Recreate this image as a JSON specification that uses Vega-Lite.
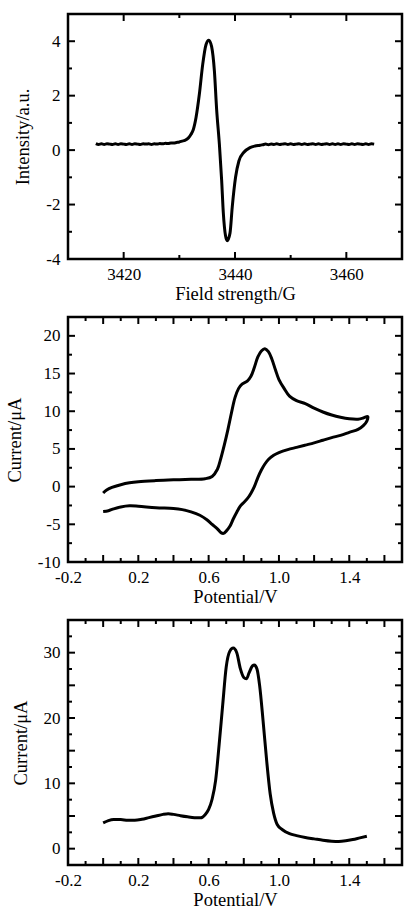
{
  "$schema": "https://vega.github.io/schema/vega-lite/v6.json",
  "background": "white",
  "padding": {"left": 4, "top": 12, "right": 0, "bottom": 0},
  "spacing": 58,
  "bounds": "flush",
  "config": {
    "view": {"stroke": "black", "strokeWidth": 2.5},
    "axis": {
      "labelFont": "Liberation Serif",
      "titleFont": "Liberation Serif",
      "labelFontSize": 17,
      "titleFontSize": 18.5,
      "labelColor": "black",
      "titleColor": "black",
      "titleFontWeight": "normal",
      "ticks": false,
      "domain": false,
      "grid": false,
      "labelOverlap": false,
      "labelFlush": false,
      "labelBound": false
    },
    "axisX": {"labelPadding": 7, "titlePadding": 2},
    "axisY": {"labelPadding": 8, "titlePadding": 13},
    "tick": {"color": "black", "opacity": 1, "thickness": 2}
  },
  "datasets": {
    "epr": [
      {"B": 3415, "I": 0.24}, {"B": 3415.5, "I": 0.21}, {"B": 3416, "I": 0.23}, {"B": 3416.5, "I": 0.21},
      {"B": 3417, "I": 0.23}, {"B": 3417.5, "I": 0.22}, {"B": 3418, "I": 0.21}, {"B": 3418.5, "I": 0.23},
      {"B": 3419, "I": 0.21}, {"B": 3419.5, "I": 0.23}, {"B": 3420, "I": 0.22}, {"B": 3420.5, "I": 0.21},
      {"B": 3421, "I": 0.23}, {"B": 3421.5, "I": 0.21}, {"B": 3422, "I": 0.23}, {"B": 3422.5, "I": 0.22},
      {"B": 3423, "I": 0.21}, {"B": 3423.5, "I": 0.23}, {"B": 3424, "I": 0.22}, {"B": 3424.5, "I": 0.23},
      {"B": 3425, "I": 0.21}, {"B": 3425.5, "I": 0.23}, {"B": 3426, "I": 0.22}, {"B": 3426.5, "I": 0.24},
      {"B": 3427, "I": 0.23}, {"B": 3427.5, "I": 0.25}, {"B": 3428, "I": 0.24}, {"B": 3428.5, "I": 0.26},
      {"B": 3429, "I": 0.26}, {"B": 3429.5, "I": 0.28}, {"B": 3430, "I": 0.3}, {"B": 3430.5, "I": 0.33},
      {"B": 3431, "I": 0.36}, {"B": 3431.6, "I": 0.44}, {"B": 3432.1, "I": 0.58}, {"B": 3432.5, "I": 0.75},
      {"B": 3433, "I": 1.2}, {"B": 3433.6, "I": 2.06}, {"B": 3434.2, "I": 3.15}, {"B": 3434.8, "I": 3.88},
      {"B": 3435.3, "I": 4.04}, {"B": 3435.8, "I": 3.8}, {"B": 3436.3, "I": 2.9}, {"B": 3436.7, "I": 1.5},
      {"B": 3437.2, "I": 0.2}, {"B": 3437.6, "I": -1.1}, {"B": 3437.9, "I": -2.3}, {"B": 3438.3, "I": -3.15},
      {"B": 3438.6, "I": -3.33}, {"B": 3439.1, "I": -3.05}, {"B": 3439.5, "I": -2.1}, {"B": 3440.1, "I": -1.0},
      {"B": 3440.7, "I": -0.4}, {"B": 3441.6, "I": -0.08}, {"B": 3442.7, "I": 0.09}, {"B": 3443.6, "I": 0.15},
      {"B": 3444.5, "I": 0.18}, {"B": 3445, "I": 0.2}, {"B": 3445.5, "I": 0.22}, {"B": 3446, "I": 0.2},
      {"B": 3446.5, "I": 0.22}, {"B": 3447, "I": 0.21}, {"B": 3447.5, "I": 0.23}, {"B": 3448, "I": 0.21},
      {"B": 3448.5, "I": 0.22}, {"B": 3449, "I": 0.23}, {"B": 3449.5, "I": 0.21}, {"B": 3450, "I": 0.23},
      {"B": 3450.5, "I": 0.21}, {"B": 3451, "I": 0.22}, {"B": 3451.5, "I": 0.23}, {"B": 3452, "I": 0.21},
      {"B": 3452.5, "I": 0.23}, {"B": 3453, "I": 0.21}, {"B": 3453.5, "I": 0.22}, {"B": 3454, "I": 0.23},
      {"B": 3454.5, "I": 0.21}, {"B": 3455, "I": 0.23}, {"B": 3455.5, "I": 0.21}, {"B": 3456, "I": 0.22},
      {"B": 3456.5, "I": 0.23}, {"B": 3457, "I": 0.21}, {"B": 3457.5, "I": 0.23}, {"B": 3458, "I": 0.21},
      {"B": 3458.5, "I": 0.23}, {"B": 3459, "I": 0.21}, {"B": 3459.5, "I": 0.23}, {"B": 3460, "I": 0.22},
      {"B": 3460.5, "I": 0.21}, {"B": 3461, "I": 0.23}, {"B": 3461.5, "I": 0.21}, {"B": 3462, "I": 0.23},
      {"B": 3462.5, "I": 0.22}, {"B": 3463, "I": 0.21}, {"B": 3463.5, "I": 0.23}, {"B": 3464, "I": 0.21},
      {"B": 3464.5, "I": 0.23}, {"B": 3465, "I": 0.22}
    ],
    "cv": [
      {"k": 1, "V": 0.0, "I": -0.85}, {"k": 2, "V": 0.02, "I": -0.45}, {"k": 3, "V": 0.05, "I": -0.1},
      {"k": 4, "V": 0.1, "I": 0.25}, {"k": 5, "V": 0.15, "I": 0.5}, {"k": 6, "V": 0.2, "I": 0.65},
      {"k": 7, "V": 0.3, "I": 0.8}, {"k": 8, "V": 0.4, "I": 0.9}, {"k": 9, "V": 0.5, "I": 0.97},
      {"k": 10, "V": 0.58, "I": 1.05}, {"k": 11, "V": 0.62, "I": 1.35}, {"k": 12, "V": 0.65, "I": 2.3},
      {"k": 13, "V": 0.67, "I": 3.8}, {"k": 14, "V": 0.69, "I": 5.6}, {"k": 15, "V": 0.71, "I": 7.6},
      {"k": 16, "V": 0.73, "I": 9.8}, {"k": 17, "V": 0.75, "I": 11.8}, {"k": 18, "V": 0.77, "I": 13.0},
      {"k": 19, "V": 0.79, "I": 13.6}, {"k": 20, "V": 0.82, "I": 14.0}, {"k": 21, "V": 0.84, "I": 14.6},
      {"k": 22, "V": 0.86, "I": 15.8}, {"k": 23, "V": 0.88, "I": 17.2}, {"k": 24, "V": 0.9, "I": 18.0},
      {"k": 25, "V": 0.92, "I": 18.3}, {"k": 26, "V": 0.94, "I": 17.9}, {"k": 27, "V": 0.96, "I": 16.9},
      {"k": 28, "V": 0.98, "I": 15.5}, {"k": 29, "V": 1.0, "I": 14.2}, {"k": 30, "V": 1.03, "I": 13.0},
      {"k": 31, "V": 1.06, "I": 12.0}, {"k": 32, "V": 1.1, "I": 11.4}, {"k": 33, "V": 1.15, "I": 11.0},
      {"k": 34, "V": 1.2, "I": 10.4}, {"k": 35, "V": 1.25, "I": 9.9}, {"k": 36, "V": 1.3, "I": 9.5},
      {"k": 37, "V": 1.35, "I": 9.2}, {"k": 38, "V": 1.4, "I": 9.0}, {"k": 39, "V": 1.45, "I": 8.95},
      {"k": 40, "V": 1.48, "I": 9.1}, {"k": 41, "V": 1.505, "I": 9.3}, {"k": 42, "V": 1.5, "I": 8.7},
      {"k": 43, "V": 1.48, "I": 8.1}, {"k": 44, "V": 1.45, "I": 7.6}, {"k": 45, "V": 1.4, "I": 7.2},
      {"k": 46, "V": 1.35, "I": 6.8}, {"k": 47, "V": 1.3, "I": 6.5}, {"k": 48, "V": 1.25, "I": 6.15},
      {"k": 49, "V": 1.2, "I": 5.8}, {"k": 50, "V": 1.15, "I": 5.5}, {"k": 51, "V": 1.1, "I": 5.2},
      {"k": 52, "V": 1.05, "I": 4.9}, {"k": 53, "V": 1.0, "I": 4.5}, {"k": 54, "V": 0.97, "I": 4.15},
      {"k": 55, "V": 0.94, "I": 3.6}, {"k": 56, "V": 0.92, "I": 3.0}, {"k": 57, "V": 0.9, "I": 2.2},
      {"k": 58, "V": 0.88, "I": 1.2}, {"k": 59, "V": 0.86, "I": 0.0}, {"k": 60, "V": 0.84, "I": -0.9},
      {"k": 61, "V": 0.82, "I": -1.6}, {"k": 62, "V": 0.8, "I": -2.1}, {"k": 63, "V": 0.78, "I": -2.6},
      {"k": 64, "V": 0.76, "I": -3.4}, {"k": 65, "V": 0.74, "I": -4.3}, {"k": 66, "V": 0.72, "I": -5.3},
      {"k": 67, "V": 0.7, "I": -5.9}, {"k": 68, "V": 0.685, "I": -6.2}, {"k": 69, "V": 0.67, "I": -6.1},
      {"k": 70, "V": 0.65, "I": -5.6}, {"k": 71, "V": 0.62, "I": -5.0}, {"k": 72, "V": 0.59, "I": -4.4},
      {"k": 73, "V": 0.55, "I": -3.8}, {"k": 74, "V": 0.5, "I": -3.35}, {"k": 75, "V": 0.45, "I": -3.05},
      {"k": 76, "V": 0.4, "I": -2.9}, {"k": 77, "V": 0.3, "I": -2.8}, {"k": 78, "V": 0.2, "I": -2.6},
      {"k": 79, "V": 0.15, "I": -2.55}, {"k": 80, "V": 0.1, "I": -2.7}, {"k": 81, "V": 0.06, "I": -2.95},
      {"k": 82, "V": 0.03, "I": -3.2}, {"k": 83, "V": 0.0, "I": -3.3}
    ],
    "dpv": [
      {"V": 0.0, "I": 3.95}, {"V": 0.03, "I": 4.3}, {"V": 0.06, "I": 4.45}, {"V": 0.1, "I": 4.45},
      {"V": 0.14, "I": 4.35}, {"V": 0.18, "I": 4.35}, {"V": 0.22, "I": 4.5}, {"V": 0.26, "I": 4.75},
      {"V": 0.3, "I": 5.0}, {"V": 0.34, "I": 5.25}, {"V": 0.37, "I": 5.35}, {"V": 0.4, "I": 5.25},
      {"V": 0.44, "I": 5.05}, {"V": 0.48, "I": 4.88}, {"V": 0.52, "I": 4.75}, {"V": 0.555, "I": 4.72},
      {"V": 0.58, "I": 5.2}, {"V": 0.6, "I": 6.0}, {"V": 0.62, "I": 7.6}, {"V": 0.64, "I": 10.5},
      {"V": 0.66, "I": 16.0}, {"V": 0.68, "I": 22.0}, {"V": 0.7, "I": 27.8}, {"V": 0.72, "I": 30.2},
      {"V": 0.74, "I": 30.7}, {"V": 0.76, "I": 30.0}, {"V": 0.78, "I": 27.6}, {"V": 0.8, "I": 26.2},
      {"V": 0.815, "I": 26.0}, {"V": 0.83, "I": 26.9}, {"V": 0.85, "I": 28.0}, {"V": 0.86, "I": 28.1},
      {"V": 0.875, "I": 27.5}, {"V": 0.89, "I": 25.0}, {"V": 0.91, "I": 19.5}, {"V": 0.93, "I": 13.5},
      {"V": 0.95, "I": 8.4}, {"V": 0.97, "I": 5.4}, {"V": 0.99, "I": 3.7}, {"V": 1.02, "I": 2.9},
      {"V": 1.06, "I": 2.3}, {"V": 1.1, "I": 2.0}, {"V": 1.15, "I": 1.7}, {"V": 1.2, "I": 1.5},
      {"V": 1.25, "I": 1.3}, {"V": 1.3, "I": 1.15}, {"V": 1.34, "I": 1.1}, {"V": 1.38, "I": 1.2},
      {"V": 1.42, "I": 1.4}, {"V": 1.46, "I": 1.65}, {"V": 1.5, "I": 1.9}
    ],
    "eprXMajor": [{"p": 3420}, {"p": 3440}, {"p": 3460}],
    "eprXMinor": [{"p": 3430}, {"p": 3450}],
    "eprYMajor": [{"p": -2}, {"p": 0}, {"p": 2}, {"p": 4}],
    "eprYMinor": [{"p": -3}, {"p": -1}, {"p": 1}, {"p": 3}],
    "vXMajor": [{"p": 0}, {"p": 0.2}, {"p": 0.4}, {"p": 0.6}, {"p": 0.8}, {"p": 1.0}, {"p": 1.2}, {"p": 1.4}, {"p": 1.6}],
    "vXMinor": [{"p": -0.1}, {"p": 0.1}, {"p": 0.3}, {"p": 0.5}, {"p": 0.7}, {"p": 0.9}, {"p": 1.1}, {"p": 1.3}, {"p": 1.5}],
    "cvYMajor": [{"p": -5}, {"p": 0}, {"p": 5}, {"p": 10}, {"p": 15}, {"p": 20}],
    "cvYMinor": [{"p": -7.5}, {"p": -2.5}, {"p": 2.5}, {"p": 7.5}, {"p": 12.5}, {"p": 17.5}],
    "dpvYMajor": [{"p": 0}, {"p": 5}, {"p": 10}, {"p": 15}, {"p": 20}, {"p": 25}, {"p": 30}],
    "dpvYMinor": [{"p": 2.5}, {"p": 7.5}, {"p": 12.5}, {"p": 17.5}, {"p": 22.5}, {"p": 27.5}, {"p": 32.5}]
  },
  "vconcat": [
    {
      "width": 334,
      "height": 245,
      "layer": [
        {
          "data": {"name": "epr"},
          "mark": {"type": "line", "color": "black", "strokeWidth": 3, "interpolate": "monotone"},
          "encoding": {
            "x": {"field": "B", "type": "quantitative", "scale": {"domain": [3410, 3470], "nice": false, "zero": false},
              "axis": {"title": "Field strength/G", "values": [3420, 3440, 3460], "labelExpr": "format(datum.value, 'd')"}},
            "y": {"field": "I", "type": "quantitative", "scale": {"domain": [-4, 5], "nice": false, "zero": false},
              "axis": {"title": "Intensity/a.u.", "values": [-4, -2, 0, 2, 4],
                "labelExpr": "(datum.value < 0 ? '-' : '') + format(abs(datum.value), 'd')"}}
          }
        },
        {"data": {"name": "eprXMajor"}, "mark": {"type": "tick", "orient": "vertical", "size": 7, "yOffset": -3.5, "zindex": 2},
          "encoding": {"x": {"field": "p", "type": "quantitative"}, "y": {"datum": -4}}},
        {"data": {"name": "eprXMajor"}, "mark": {"type": "tick", "orient": "vertical", "size": 7, "yOffset": 3.5, "zindex": 2},
          "encoding": {"x": {"field": "p", "type": "quantitative"}, "y": {"datum": 5}}},
        {"data": {"name": "eprXMinor"}, "mark": {"type": "tick", "orient": "vertical", "size": 4, "yOffset": -2, "zindex": 2},
          "encoding": {"x": {"field": "p", "type": "quantitative"}, "y": {"datum": -4}}},
        {"data": {"name": "eprXMinor"}, "mark": {"type": "tick", "orient": "vertical", "size": 4, "yOffset": 2, "zindex": 2},
          "encoding": {"x": {"field": "p", "type": "quantitative"}, "y": {"datum": 5}}},
        {"data": {"name": "eprYMajor"}, "mark": {"type": "tick", "orient": "horizontal", "size": 7, "xOffset": 3.5, "zindex": 2},
          "encoding": {"y": {"field": "p", "type": "quantitative"}, "x": {"datum": 3410}}},
        {"data": {"name": "eprYMajor"}, "mark": {"type": "tick", "orient": "horizontal", "size": 7, "xOffset": -3.5, "zindex": 2},
          "encoding": {"y": {"field": "p", "type": "quantitative"}, "x": {"datum": 3470}}},
        {"data": {"name": "eprYMinor"}, "mark": {"type": "tick", "orient": "horizontal", "size": 4, "xOffset": 2, "zindex": 2},
          "encoding": {"y": {"field": "p", "type": "quantitative"}, "x": {"datum": 3410}}},
        {"data": {"name": "eprYMinor"}, "mark": {"type": "tick", "orient": "horizontal", "size": 4, "xOffset": -2, "zindex": 2},
          "encoding": {"y": {"field": "p", "type": "quantitative"}, "x": {"datum": 3470}}}
      ]
    },
    {
      "width": 334,
      "height": 245,
      "layer": [
        {
          "data": {"name": "cv"},
          "mark": {"type": "line", "color": "black", "strokeWidth": 3, "interpolate": "catmull-rom"},
          "encoding": {
            "order": {"field": "k", "type": "quantitative"},
            "x": {"field": "V", "type": "quantitative", "scale": {"domain": [-0.2, 1.7], "nice": false, "zero": false},
              "axis": {"title": "Potential/V", "values": [-0.2, 0, 0.2, 0.4, 0.6, 0.8, 1.0, 1.2, 1.4, 1.6],
                "labelExpr": "(datum.value < -0.001 ? '-' : '') + format(abs(datum.value), '.1f')"}},
            "y": {"field": "I", "type": "quantitative", "scale": {"domain": [-10, 22.5], "nice": false, "zero": false},
              "axis": {"title": "Current/μA", "values": [-10, -5, 0, 5, 10, 15, 20],
                "labelExpr": "(datum.value < 0 ? '-' : '') + format(abs(datum.value), 'd')"}}
          }
        },
        {"data": {"name": "vXMajor"}, "mark": {"type": "tick", "orient": "vertical", "size": 7, "yOffset": -3.5, "zindex": 2},
          "encoding": {"x": {"field": "p", "type": "quantitative"}, "y": {"datum": -10}}},
        {"data": {"name": "vXMajor"}, "mark": {"type": "tick", "orient": "vertical", "size": 7, "yOffset": 3.5, "zindex": 2},
          "encoding": {"x": {"field": "p", "type": "quantitative"}, "y": {"datum": 22.5}}},
        {"data": {"name": "vXMinor"}, "mark": {"type": "tick", "orient": "vertical", "size": 4, "yOffset": -2, "zindex": 2},
          "encoding": {"x": {"field": "p", "type": "quantitative"}, "y": {"datum": -10}}},
        {"data": {"name": "vXMinor"}, "mark": {"type": "tick", "orient": "vertical", "size": 4, "yOffset": 2, "zindex": 2},
          "encoding": {"x": {"field": "p", "type": "quantitative"}, "y": {"datum": 22.5}}},
        {"data": {"name": "cvYMajor"}, "mark": {"type": "tick", "orient": "horizontal", "size": 7, "xOffset": 3.5, "zindex": 2},
          "encoding": {"y": {"field": "p", "type": "quantitative"}, "x": {"datum": -0.2}}},
        {"data": {"name": "cvYMajor"}, "mark": {"type": "tick", "orient": "horizontal", "size": 7, "xOffset": -3.5, "zindex": 2},
          "encoding": {"y": {"field": "p", "type": "quantitative"}, "x": {"datum": 1.7}}},
        {"data": {"name": "cvYMinor"}, "mark": {"type": "tick", "orient": "horizontal", "size": 4, "xOffset": 2, "zindex": 2},
          "encoding": {"y": {"field": "p", "type": "quantitative"}, "x": {"datum": -0.2}}},
        {"data": {"name": "cvYMinor"}, "mark": {"type": "tick", "orient": "horizontal", "size": 4, "xOffset": -2, "zindex": 2},
          "encoding": {"y": {"field": "p", "type": "quantitative"}, "x": {"datum": 1.7}}}
      ]
    },
    {
      "width": 334,
      "height": 245,
      "layer": [
        {
          "data": {"name": "dpv"},
          "mark": {"type": "line", "color": "black", "strokeWidth": 3, "interpolate": "monotone"},
          "encoding": {
            "x": {"field": "V", "type": "quantitative", "scale": {"domain": [-0.2, 1.7], "nice": false, "zero": false},
              "axis": {"title": "Potential/V", "values": [-0.2, 0, 0.2, 0.4, 0.6, 0.8, 1.0, 1.2, 1.4, 1.6],
                "labelExpr": "(datum.value < -0.001 ? '-' : '') + format(abs(datum.value), '.1f')"}},
            "y": {"field": "I", "type": "quantitative", "scale": {"domain": [-2.5, 35], "nice": false, "zero": false},
              "axis": {"title": "Current/μA", "values": [0, 5, 10, 15, 20, 25, 30, 35],
                "labelExpr": "format(datum.value, 'd')"}}
          }
        },
        {"data": {"name": "vXMajor"}, "mark": {"type": "tick", "orient": "vertical", "size": 7, "yOffset": -3.5, "zindex": 2},
          "encoding": {"x": {"field": "p", "type": "quantitative"}, "y": {"datum": -2.5}}},
        {"data": {"name": "vXMajor"}, "mark": {"type": "tick", "orient": "vertical", "size": 7, "yOffset": 3.5, "zindex": 2},
          "encoding": {"x": {"field": "p", "type": "quantitative"}, "y": {"datum": 35}}},
        {"data": {"name": "vXMinor"}, "mark": {"type": "tick", "orient": "vertical", "size": 4, "yOffset": -2, "zindex": 2},
          "encoding": {"x": {"field": "p", "type": "quantitative"}, "y": {"datum": -2.5}}},
        {"data": {"name": "vXMinor"}, "mark": {"type": "tick", "orient": "vertical", "size": 4, "yOffset": 2, "zindex": 2},
          "encoding": {"x": {"field": "p", "type": "quantitative"}, "y": {"datum": 35}}},
        {"data": {"name": "dpvYMajor"}, "mark": {"type": "tick", "orient": "horizontal", "size": 7, "xOffset": 3.5, "zindex": 2},
          "encoding": {"y": {"field": "p", "type": "quantitative"}, "x": {"datum": -0.2}}},
        {"data": {"name": "dpvYMajor"}, "mark": {"type": "tick", "orient": "horizontal", "size": 7, "xOffset": -3.5, "zindex": 2},
          "encoding": {"y": {"field": "p", "type": "quantitative"}, "x": {"datum": 1.7}}},
        {"data": {"name": "dpvYMinor"}, "mark": {"type": "tick", "orient": "horizontal", "size": 4, "xOffset": 2, "zindex": 2},
          "encoding": {"y": {"field": "p", "type": "quantitative"}, "x": {"datum": -0.2}}},
        {"data": {"name": "dpvYMinor"}, "mark": {"type": "tick", "orient": "horizontal", "size": 4, "xOffset": -2, "zindex": 2},
          "encoding": {"y": {"field": "p", "type": "quantitative"}, "x": {"datum": 1.7}}}
      ]
    }
  ]
}
